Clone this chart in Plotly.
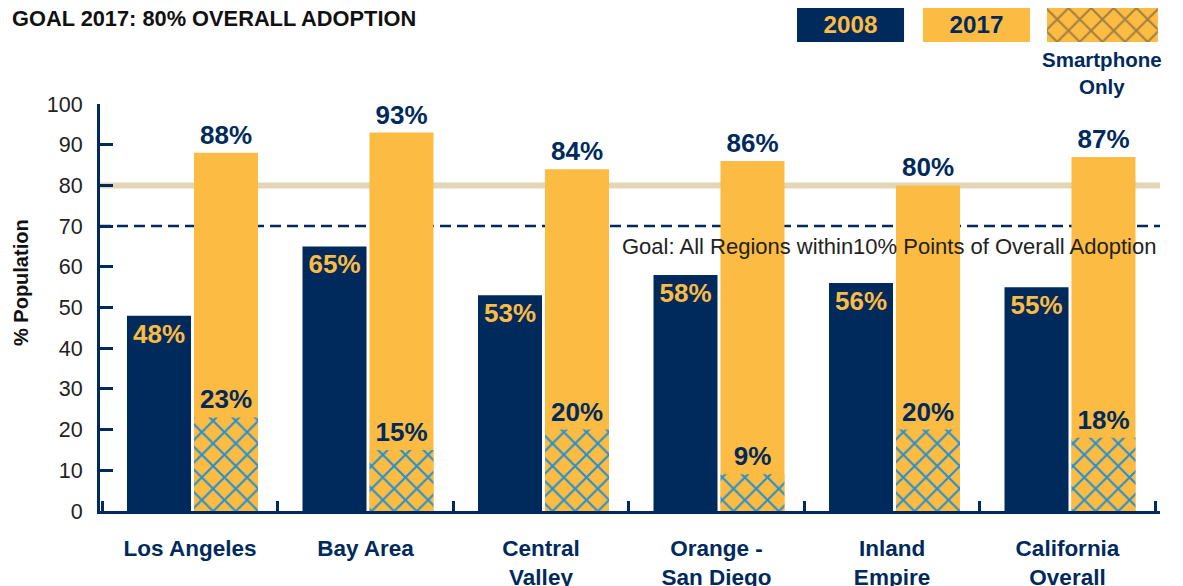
import plotly.graph_objects as go

categories = ["Los Angeles", "Bay Area", "Central<br>Valley", "Orange -<br>San Diego", "Inland<br>Empire", "California<br>Overall"]
adopt_2008 = [48, 65, 53, 58, 56, 55]
adopt_2017 = [88, 93, 84, 86, 80, 87]
smartphone_only = [23, 15, 20, 9, 20, 18]
legend_items = ["2008", "2017", "Smartphone Only"]
goal_overall = 80
goal_regions = 70
y_ticks = list(range(0, 101, 10))

NAVY = "#002a5c"
YELLOW = "#fcbb42"
HATCH = "#2590d0"
BEIGE = "#e2d6b6"
FONT = "Liberation Sans, Arial, sans-serif"

BW = 0.3647
HALF_GAP = 0.0085
SHIFT = 0.0142

fig = go.Figure()
fig.add_trace(go.Bar(
    x=categories, y=adopt_2008, width=BW, offset=-BW - HALF_GAP + SHIFT,
    marker=dict(color=NAVY, line=dict(width=0)),
    texttemplate="%{y}%", textposition="inside", insidetextanchor="end",
    textfont=dict(family=FONT, size=26, color=YELLOW, weight="bold"),
    textangle=0, showlegend=False, cliponaxis=False,
))
fig.add_trace(go.Bar(
    x=categories, y=adopt_2017, width=BW, offset=HALF_GAP + SHIFT,
    marker=dict(color=YELLOW, line=dict(width=0)),
    texttemplate="%{y}%", textposition="outside",
    textfont=dict(family=FONT, size=26, color=NAVY, weight="bold"),
    textangle=0, showlegend=False, cliponaxis=False,
))
fig.add_trace(go.Bar(
    x=categories, y=smartphone_only, width=BW, offset=HALF_GAP + SHIFT,
    marker=dict(color=YELLOW, line=dict(width=0),
                pattern=dict(shape="x", fgcolor=HATCH, bgcolor=YELLOW, size=16, solidity=0.24, fillmode="replace")),
    texttemplate="%{y}%", textposition="outside",
    textfont=dict(family=FONT, size=26, color=NAVY, weight="bold"),
    textangle=0, showlegend=False, cliponaxis=False,
))

# legend swatches as a small bar subplot
fig.add_trace(go.Bar(
    x=legend_items, y=[1, 1, 1], width=[0.85, 0.85, 0.88],
    xaxis="x2", yaxis="y2",
    marker=dict(color=[NAVY, YELLOW, YELLOW], line=dict(width=0),
                pattern=dict(shape=["", "", "x"], fgcolor=HATCH, bgcolor=[NAVY, YELLOW, YELLOW], size=16, solidity=0.24)),
    text=["2008", "2017", ""], textposition="inside", insidetextanchor="middle",
    textfont=dict(family=FONT, size=26, color=[YELLOW, NAVY, NAVY], weight="bold"),
    textangle=0, showlegend=False, hoverinfo="skip",
))

fig.add_hline(y=goal_overall, line=dict(color=BEIGE, width=6), layer="below")
fig.add_hline(y=goal_regions, line=dict(color=NAVY, width=2.5, dash="11px,6px"), layer="below")

fig.add_annotation(
    x=1, xref="paper", y=65, yref="y", xanchor="right", yanchor="middle", xshift=-2,
    text="Goal: All Regions within10% Points of Overall Adoption", showarrow=False,
    font=dict(family=FONT, size=22, color="#222222"),
)
fig.add_annotation(
    x=legend_items[2], xref="x2", y=0, yref="y2", yanchor="top", xanchor="center",
    text="<b>Smartphone<br>Only</b>", showarrow=False, yshift=-4,
    font=dict(family=FONT, size=20.5, color=NAVY),
)
fig.add_annotation(
    x=-90 / 1060, xref="paper", y=0.980, yref="paper", xanchor="left", yanchor="middle",
    text="<b>GOAL 2017: 80% OVERALL ADOPTION</b>", showarrow=False,
    font=dict(family=FONT, size=21.8, color="#111111"),
)
fig.add_annotation(
    x=-0.0745, xref="paper", y=0.4533, yref="paper", xanchor="center", yanchor="middle",
    text="<b>% Population</b>", showarrow=False, textangle=-90,
    font=dict(family=FONT, size=20, color="#111111"),
)

fig.update_layout(
    width=1183, height=586,
    margin=dict(l=92, r=31, t=0, b=83, autoexpand=False),
    paper_bgcolor="white", plot_bgcolor="white",
    barmode="overlay",
    xaxis=dict(
        domain=[0, 1], range=[-0.5128, 5.527], type="category", automargin=False,
        showline=True, linecolor=NAVY, linewidth=3,
        ticks="inside", tickson="boundaries", ticklen=10, tickwidth=3, tickcolor=NAVY,
        tickfont=dict(family=FONT, size=22.5, color=NAVY, weight="bold"),
        ticklabelstandoff=15, showgrid=False, zeroline=False, fixedrange=True,
    ),
    yaxis=dict(
        domain=[0, 0.8091], range=[0, 100], tickvals=y_ticks, automargin=False,
        showline=True, linecolor=NAVY, linewidth=3,
        ticks="inside", ticklen=13, tickwidth=3, tickcolor=NAVY,
        tickfont=dict(family=FONT, size=21.5, color="#222222"),
        ticklabelstandoff=10, showgrid=False, zeroline=False,
    ),
    xaxis2=dict(domain=[0.6575, 0.998], range=[-0.425, 2.44], type="category", anchor="y2",
                visible=False, fixedrange=True, automargin=False),
    yaxis2=dict(domain=[0.9324, 1.0], range=[0, 1], anchor="x2", visible=False, fixedrange=True,
                automargin=False),
)

fig.write_html("out.html")
